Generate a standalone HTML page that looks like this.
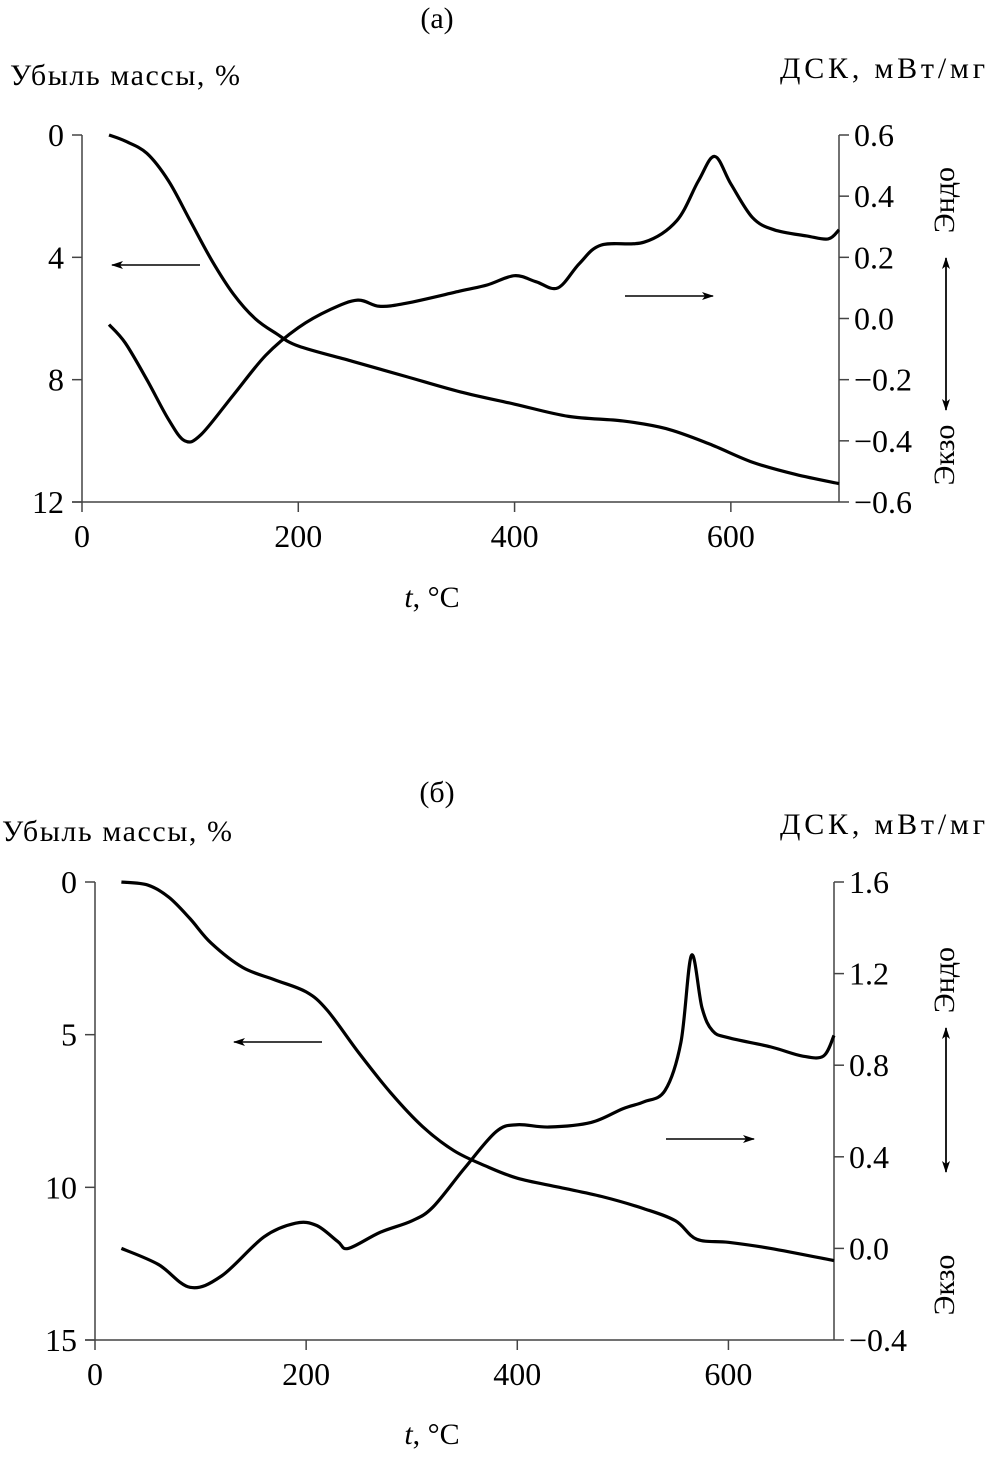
<!DOCTYPE html>
<html><head><meta charset="utf-8"><style>
body{margin:0;background:#fff}
svg{display:block}
text{font-family:"Liberation Serif",serif;fill:#000}
</style></head><body>
<svg id="s" width="1004" height="1458" viewBox="0 0 1004 1458">
<defs><marker id="ah" markerWidth="12" markerHeight="8" refX="11" refY="4" orient="auto" markerUnits="userSpaceOnUse"><path d="M0,0 L12,4 L0,8 L3,4 z" fill="#000"/></marker></defs>
</svg>
<script>
// Panel (a) data
const tA = [25,40,60,80,100,120,140,160,180,200,250,300,350,400,450,500,540,580,620,660,700];
const massA = [0,0.2,0.6,1.5,2.8,4.1,5.2,6.0,6.5,6.9,7.4,7.9,8.4,8.8,9.2,9.35,9.6,10.1,10.7,11.1,11.4];
const tDA = [25,40,60,80,95,110,140,170,200,230,255,275,300,350,375,400,420,440,460,480,520,550,570,585,600,620,640,670,690,700];
const dscA = [-0.02,-0.08,-0.2,-0.33,-0.40,-0.38,-0.25,-0.12,-0.03,0.03,0.06,0.04,0.05,0.09,0.11,0.14,0.12,0.10,0.18,0.24,0.25,0.32,0.45,0.53,0.44,0.33,0.29,0.27,0.26,0.29];
const leftTicksA = [0,4,8,12];
const rightTicksA = [0.6,0.4,0.2,0.0,-0.2,-0.4,-0.6];
// Panel (b) data
const tB = [25,50,70,90,110,140,170,200,220,250,280,310,340,370,400,440,480,520,550,570,600,640,700];
const massB = [0,0.1,0.5,1.2,2.0,2.8,3.2,3.6,4.2,5.6,6.9,8.0,8.8,9.3,9.7,10.0,10.3,10.7,11.1,11.7,11.8,12.0,12.4];
const tDB = [25,60,90,120,160,190,210,230,240,270,300,320,350,380,400,430,470,500,520,540,555,565,575,585,600,640,670,690,700];
const dscB = [0.0,-0.07,-0.17,-0.12,0.05,0.11,0.10,0.03,0.0,0.07,0.12,0.18,0.35,0.51,0.54,0.53,0.55,0.61,0.64,0.69,0.9,1.28,1.05,0.95,0.92,0.88,0.84,0.84,0.93];
const leftTicksB = [0,5,10,15];
const rightTicksB = ["1.6","1.2","0.8","0.4","0.0","−0.4"];
const xTicks = [0,200,400,600];

const svg=document.getElementById('s');
const NS='http://www.w3.org/2000/svg';
function mk(tag,attrs,parent){const e=document.createElementNS(NS,tag);for(const k in attrs)e.setAttribute(k,attrs[k]);(parent||svg).appendChild(e);return e;}
function txt(x,y,s,size,anchor,parent){const e=mk('text',{x:x,y:y,'font-size':size,'text-anchor':anchor||'start'},parent);e.textContent=s;return e;}
function smooth(pts){
  let d=`M${pts[0][0]},${pts[0][1]}`;
  for(let i=0;i<pts.length-1;i++){
    const p0=pts[Math.max(0,i-1)],p1=pts[i],p2=pts[i+1],p3=pts[Math.min(pts.length-1,i+2)];
    const c1x=p1[0]+(p2[0]-p0[0])/6,c1y=p1[1]+(p2[1]-p0[1])/6;
    const c2x=p2[0]-(p3[0]-p1[0])/6,c2y=p2[1]-(p3[1]-p1[1])/6;
    d+=` C${c1x},${c1y} ${c2x},${c2y} ${p2[0]},${p2[1]}`;
  }
  return d;
}

function panel(P){
  const g=mk('g',{});
  
  
  const X=t=>P.x0+(t/700)*(P.x1-P.x0);
  const YL=v=>P.y0+(v/P.lmax)*(P.y1-P.y0);
  const YR=v=>P.y0+(P.rtop-v)/(P.rtop-P.rbot)*(P.y1-P.y0);
  const ax=mk('path',{d:`M${P.x0},${P.y0} V${P.y1} M${P.x0-10},${P.y1} H${P.x1} M${P.x1},${P.y0} V${P.y1}`,stroke:'#444',fill:'none','stroke-width':1.5},g);
  
  
  P.lt.forEach(v=>{const y=YL(v);mk('line',{x1:P.x0-10,x2:P.x0,y1:y,y2:y,stroke:'#444','stroke-width':1.5},g);
    const t=txt(P.x0-18,y+11,String(v),32,'end',g);
    
    });
  P.rt.forEach(s=>{const v=parseFloat(s.replace('−','-'));const y=YR(v);mk('line',{x1:P.x1,x2:P.x1+10,y1:y,y2:y,stroke:'#444','stroke-width':1.5},g);
    const t=txt(P.x1+15,y+11,s,32,'start',g);
    
    });
  xTicks.forEach(v=>{const x=X(v);mk('line',{x1:x,x2:x,y1:P.y1,y2:P.y1+10,stroke:'#444','stroke-width':1.5},g);
    const t=txt(x,P.y1+45,String(v),32,'middle',g);
    
    });
  const m=mk('path',{d:smooth(P.tm.map((t,i)=>[X(t),YL(P.m[i])])),fill:'none',stroke:'#000','stroke-width':3.2,'stroke-linejoin':'round'},g);
  
  
  const d=mk('path',{d:smooth(P.td.map((t,i)=>[X(t),YR(P.d[i])])),fill:'none',stroke:'#000','stroke-width':3.2,'stroke-linejoin':'round'},g);
  
  
  const a1=mk('line',{x1:P.la[0],x2:P.la[1],y1:P.la[2],y2:P.la[2],stroke:'#000','stroke-width':1.5,'marker-end':'url(#ah)'},g);
  
  
  const a2=mk('line',{x1:P.ra[0],x2:P.ra[1],y1:P.ra[2],y2:P.ra[2],stroke:'#000','stroke-width':1.5,'marker-end':'url(#ah)'},g);
  
  
  const a3=mk('line',{x1:946,x2:946,y1:P.ed[1],y2:P.ed[0],stroke:'#000','stroke-width':1.5,'marker-end':'url(#ah)'},g);
  
  
  const a4=mk('line',{x1:946,x2:946,y1:P.ed[0],y2:P.ed[1],stroke:'#000','stroke-width':1.5,'marker-end':'url(#ah)'},g);
  
  
  const en=txt(0,0,'Эндо',30,'middle',g);en.setAttribute('transform',`translate(954,${P.endoY}) rotate(-90)`);
  
  
  const ex=txt(0,0,'Экзо',30,'middle',g);ex.setAttribute('transform',`translate(954,${P.exoY}) rotate(-90)`);
  
  
  const tt=txt(437,P.titleY,P.title,30,'middle',g);
  
  
  const yl=txt(P.ylx,P.yly,'Убыль массы, %',30,'start',g);
  yl.setAttribute('textLength',P.ylw);
  
  
  const yr=txt(780,P.yry,'ДСК, мВт/мг',30,'start',g);
  yr.setAttribute('textLength',205);
  
  
  const xl=mk('text',{x:432,y:P.xly,'font-size':30,'text-anchor':'middle'},g);
  xl.innerHTML='<tspan font-style="italic">t</tspan>, °C';
  
  
}
panel({name:'panel-a',x0:82,x1:839,y0:135,y1:502,lmax:12,rtop:0.6,rbot:-0.6,lt:leftTicksA,rt:rightTicksA.map(v=>(v<0?'−':'')+Math.abs(v).toFixed(1)),
  tm:tA,m:massA,td:tDA,d:dscA,la:[200,112,265],ra:[625,713,296],ed:[258,410],endoY:200,exoY:455,title:'(а)',titleY:28,ylx:10,yly:85,ylw:230,yry:78,xly:607});
panel({name:'panel-b',x0:95,x1:834,y0:882,y1:1340,lmax:15,rtop:1.6,rbot:-0.4,lt:leftTicksB,rt:rightTicksB,
  tm:tB,m:massB,td:tDB,d:dscB,la:[322,234,1042],ra:[666,754,1139],ed:[1028,1172],endoY:980,exoY:1285,title:'(б)',titleY:802,ylx:2,yly:841,ylw:230,yry:834,xly:1444});
</script>
</body></html>
